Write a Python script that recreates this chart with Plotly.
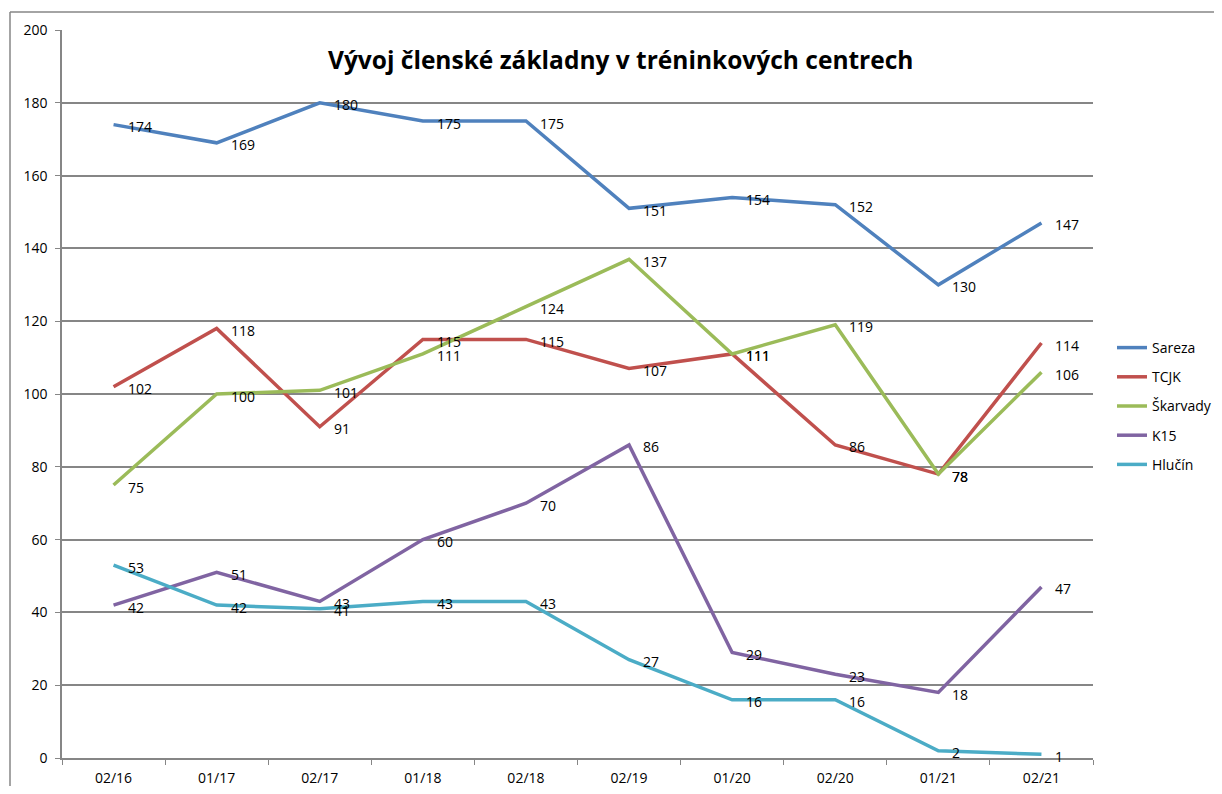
import plotly.graph_objects as go

categories = ["02/16", "01/17", "02/17", "01/18", "02/18", "02/19", "01/20", "02/20", "01/21", "02/21"]
sareza = [174, 169, 180, 175, 175, 151, 154, 152, 130, 147]
tcjk = [102, 118, 91, 115, 115, 107, 111, 86, 78, 114]
skarvady = [75, 100, 101, 111, 124, 137, 111, 119, 78, 106]
k15 = [42, 51, 43, 60, 70, 86, 29, 23, 18, 47]
hlucin = [53, 42, 41, 43, 43, 27, 16, 16, 2, 1]

series = [
    ("Sareza", sareza, "#4F81BD"),
    ("TCJK", tcjk, "#C0504D"),
    ("Škarvady", skarvady, "#9BBB59"),
    ("K15", k15, "#8064A2"),
    ("Hlučín", hlucin, "#4BACC6"),
]

FONT = "Open Sans"
fig = go.Figure()
annotations = []
for i, (name, vals, color) in enumerate(series):
    fig.add_trace(go.Scatter(
        x=categories, y=vals, name=name, mode="lines",
        line=dict(color=color, width=3.5),
        legendgroup=f"g{i}", hoverinfo="skip",
    ))
    for c, v in zip(categories, vals):
        annotations.append(dict(
            x=c, y=v, xref="x", yref="y", text=str(v), showarrow=False,
            xanchor="left", yanchor="middle", xshift=12, yshift=-2,
            font=dict(family=FONT, size=14, color="#000000"),
        ))

OFF = 8  # page body offset
W, H = 1222 - 2 * OFF, 794 - 2 * OFF
L, R, T, B = 62 - OFF, (W + OFF) - 1093, 30 - OFF, (H + OFF) - 758
pw, ph = W - L - R, H - T - B

def px(x):
    return (x - OFF - L) / pw

def py(y):
    return (H - B - (y - OFF)) / ph

annotations.append(dict(text="<b>Vývoj členské základny v tréninkových centrech</b>",
                        x=px(620), y=py(60), xref="paper", yref="paper",
                        xanchor="center", yanchor="middle", showarrow=False,
                        bgcolor="white",
                        font=dict(family=FONT, size=24.5, color="#000000")))

fig.update_layout(
    width=W, height=H,
    margin=dict(l=L, r=R, t=T, b=B, autoexpand=False),
    paper_bgcolor="white", plot_bgcolor="white",
    font=dict(family=FONT, size=14, color="#000000"),
    showlegend=True,
    legend=dict(x=px(1112), y=py(406), xanchor="left", yanchor="middle",
                font=dict(family=FONT, size=14, color="#000000"),
                tracegroupgap=8, itemwidth=30, bgcolor="rgba(0,0,0,0)"),
    xaxis=dict(type="category", range=[-0.5, 9.5], showgrid=False, automargin=False,
               showline=True, linecolor="#868686", linewidth=1.5,
               ticks="outside", tickson="boundaries", ticklen=5, tickcolor="#868686",
               ticklabelstandoff=6,
               tickfont=dict(family=FONT, size=14, color="#000000"), fixedrange=True),
    yaxis=dict(range=[0, 200], dtick=20, showgrid=True, gridcolor="#868686", gridwidth=1.5,
               automargin=False,
               showline=True, linecolor="#868686", linewidth=1.5,
               ticks="outside", ticklen=5, tickcolor="#868686", zeroline=False,
               ticklabelstandoff=5,
               tickfont=dict(family=FONT, size=14, color="#000000"), fixedrange=True),
    annotations=annotations,
    shapes=[
        dict(type="line", xref="paper", yref="paper", x0=px(10), x1=px(1240), y0=py(12), y1=py(12),
             line=dict(color="#868686", width=1.5)),
        dict(type="line", xref="paper", yref="paper", x0=px(10), x1=px(10), y0=py(12), y1=py(810),
             line=dict(color="#868686", width=1.5)),
    ],
)

fig.write_html("out.html")
